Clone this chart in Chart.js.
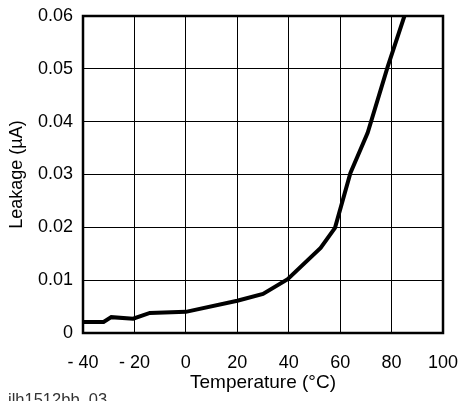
<!DOCTYPE html>
<html>
<head>
<meta charset="utf-8">
<script src="https://cdn.jsdelivr.net/npm/chart.js@4"></script>
<style>
  html, body { margin:0; padding:0; background:#fff; }
  #wrap { width:459px; height:401px; position:relative; }
</style>
</head>
<body>
<div id="wrap"><canvas id="leakChart"></canvas></div>
<script>
// leakage vs temperature
const temps   = [-40, -32, -29, -20.5, -14, 0, 20, 30, 39.6, 52.4, 58, 64, 70.7, 78.5, 85]
const leakage = [0.0021, 0.0021, 0.0030, 0.0027, 0.0038, 0.0040, 0.0061, 0.0074, 0.0102, 0.0161, 0.0199, 0.0303, 0.0379, 0.0504, 0.0600]
const xTicks  = [-40, -20, 0, 20, 40, 60, 80, 100]
const yTicks  = [0, 0.01, 0.02, 0.03, 0.04, 0.05, 0.06]
const figId   = 'ilh1512bb_03'

const FONT = 'Liberation Sans, Arial, Helvetica, sans-serif'

// heavy frame round the plot + figure id in the corner
const framePlugin = {
  id: 'frame',
  afterDraw(chart){
    const {ctx, chartArea:a} = chart
    ctx.save()
    ctx.strokeStyle = '#000'
    ctx.lineWidth = 2.5
    ctx.strokeRect(a.left, a.top, a.right - a.left, a.bottom - a.top)
    ctx.fillStyle = '#333'
    ctx.font = '16.5px ' + FONT
    ctx.textBaseline = 'alphabetic'
    ctx.fillText(figId, 8, 405)
    ctx.restore()
  }
}

const ctx = document.getElementById('leakChart').getContext('2d')
new Chart(ctx, {
  type: 'line',
  data: { datasets: [{
    data: temps.map((t, i) => ({ x: t, y: leakage[i] })),
    borderColor: '#000', borderWidth: 4, pointRadius: 0, tension: 0, fill: false
  }]},
  options: {
    responsive: true, maintainAspectRatio: false, animation: false,
    layout: { padding: { top: 16, right: 16, left: 0, bottom: 0 } },
    plugins: { legend: { display: false }, tooltip: { enabled: false } },
    scales: {
      x: {
        type: 'linear', min: -40, max: 100,
        afterBuildTicks: s => { s.ticks = xTicks.map(v => ({ value: v })) },
        afterFit: s => { s.height = 68; s.paddingLeft = 0; s.paddingRight = 0 },
        grid: { color: '#000', lineWidth: 1, drawTicks: false },
        border: { display: false },
        ticks: { color: '#000', padding: 19, font: { family: FONT, size: 18 },
          callback: v => v < 0 ? '- ' + Math.abs(v) : String(v) },
        title: { display: true, text: 'Temperature (°C)', color: '#000',
          font: { family: FONT, size: 19 }, padding: { top: 0, bottom: 7 } }
      },
      y: {
        min: 0, max: 0.06,
        afterBuildTicks: s => { s.ticks = yTicks.map(v => ({ value: v })) },
        afterFit: s => { s.width = 83; s.paddingTop = 0; s.paddingBottom = 0 },
        grid: { color: '#000', lineWidth: 1, drawTicks: false },
        border: { display: false },
        ticks: { color: '#000', padding: 10, font: { family: FONT, size: 18 },
          callback: v => v === 0 ? '0' : v.toFixed(2) },
        title: { display: true, text: 'Leakage (µA)', color: '#000',
          font: { family: FONT, size: 18 }, padding: { top: 6, bottom: 0 } }
      }
    }
  },
  plugins: [framePlugin]
})
</script>
</body>
</html>
